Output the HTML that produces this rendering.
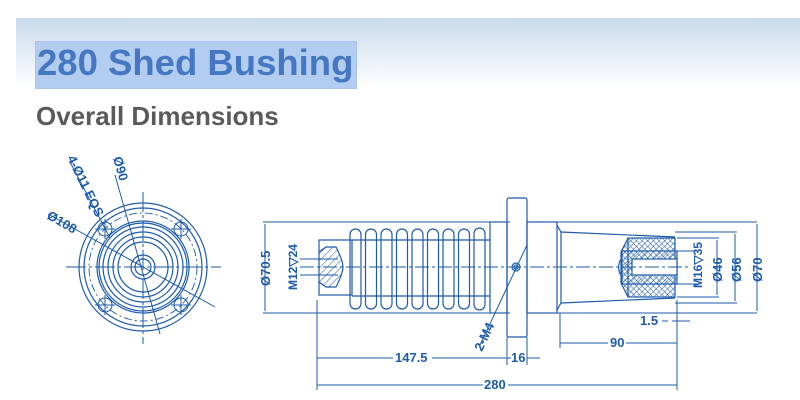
<!DOCTYPE html>
<html><head><meta charset="utf-8"><style>
html,body{margin:0;padding:0;background:#fff;}
body{width:800px;height:400px;position:relative;overflow:hidden;font-family:"Liberation Sans",sans-serif;}
.band{position:absolute;left:16px;top:18px;width:784px;height:70px;background:linear-gradient(#c9daec,#ffffff);}
.hl{position:absolute;left:35px;top:41px;width:320px;height:46px;background:#b3cdf0;border:1px solid #a8c4ec;}
.t1{position:absolute;left:37px;top:42px;font-size:36.5px;font-weight:bold;color:#4677c2;white-space:nowrap;}
.t2{position:absolute;left:36px;top:101px;font-size:26px;font-weight:bold;color:#5a5a5a;white-space:nowrap;}
svg{position:absolute;left:0;top:0;}
</style></head><body>
<div class="band"></div>
<div class="hl"></div>
<div class="t1">280 Shed Bushing</div>
<div class="t2">Overall Dimensions</div>
<svg width="800" height="400" viewBox="0 0 800 400">
<defs>
<pattern id="h" width="5" height="5" patternUnits="userSpaceOnUse" patternTransform="rotate(45)"><line x1="0" y1="0" x2="0" y2="5" stroke="#1d5bab" stroke-width="1"/></pattern>
<pattern id="x" width="4" height="4" patternUnits="userSpaceOnUse" patternTransform="rotate(45)"><path d="M0 0V4M0 0H4" stroke="#1d5bab" stroke-width="1"/></pattern>
</defs>
<g stroke="#1d5bab" fill="none" stroke-width="1.2" font-family="Liberation Sans,sans-serif">
<circle cx="143" cy="267" r="64"/>
<circle cx="143" cy="267" r="59"/>
<circle cx="143" cy="267" r="54" stroke-dasharray="8 3 2 3" stroke-width="0.9"/>
<circle cx="143" cy="267" r="46"/><circle cx="143" cy="267" r="44"/><circle cx="143" cy="267" r="40"/>
<circle cx="143" cy="267" r="35"/><circle cx="143" cy="267" r="30"/><circle cx="143" cy="267" r="25"/>
<circle cx="143" cy="267" r="12"/><circle cx="143" cy="267" r="8"/>
<g stroke-width="1">
<circle cx="105" cy="229" r="7"/><circle cx="181" cy="229" r="7"/><circle cx="105" cy="305" r="7"/><circle cx="181" cy="305" r="7"/>
<path d="M95 229h20M105 219v20M171 229h20M181 219v20M95 305h20M105 295v20M171 305h20M181 295v20"/>
<path d="M66 267h155M143 192v152" stroke-dasharray="20 3 3 3"/>
<path d="M115 175L160 334M48 214L215 307M70 162L110 238"/>
</g>
<g fill="#1d5bab" stroke="none" font-size="13" font-weight="bold">
<text transform="translate(113,158) rotate(74)">Ø90</text>
<text transform="translate(46,218) rotate(30)">Ø108</text>
<text transform="translate(67,158) rotate(64)">4-Ø11 EQS</text>
</g>
<path d="M263 222H510M263 313H510M556 222H757M556 313H757" stroke-width="1"/>
<path d="M265 224V311M735 234V301M717 240V295M757 224V311" stroke-width="1"/>
<rect x="319" y="240" width="33" height="55"/>
<path d="M319 252L326 247H336C340 255 343 262 343 267C343 272 340 279 336 287H326L319 282" fill="url(#h)"/>
<path d="M319 259H338M319 275H338M300 259H320M300 275H320" stroke-width="1"/>
<path d="M352 240H490M352 296H490"/>
<g>
<rect x="350" y="229" width="11" height="80" rx="5.5"/>
<rect x="365.5" y="229" width="11" height="80" rx="5.5"/>
<rect x="381" y="229" width="11" height="80" rx="5.5"/>
<rect x="396.5" y="229" width="11" height="80" rx="5.5"/>
<rect x="412" y="229" width="11" height="80" rx="5.5"/>
<rect x="427.5" y="229" width="11" height="80" rx="5.5"/>
<rect x="443" y="229" width="11" height="80" rx="5.5"/>
<rect x="458.5" y="229" width="11" height="80" rx="5.5"/>
<rect x="474" y="228" width="11" height="82" rx="5.5"/>
</g>
<rect x="490" y="222" width="17" height="91"/>
<rect x="507" y="198" width="20" height="139" rx="2"/>
<rect x="527" y="222" width="30" height="91"/>
<path d="M557 225L561 232L675 237M557 310L561 303L675 298M561 232V303"/>
<rect x="628" y="238" width="47" height="59" fill="url(#x)"/>
<path d="M628 238L621 252V283L628 297" fill="url(#x)"/>
<rect x="622" y="251" width="55" height="33" fill="url(#h)"/>
<path d="M622 258C618 262 617 272 622 276" fill="none"/>
<rect x="632" y="259" width="45" height="16" fill="#fff"/>
<path d="M675 232H737M675 303H737M677 238H719M677 297H719M677 251H697M677 284H697" stroke-width="1"/>
<path d="M300 267H690" stroke-dasharray="14 3 3 3" stroke-width="1"/>
<circle cx="516" cy="267" r="4"/><circle cx="516" cy="267" r="2"/>
<path d="M527 245L480 345" stroke-width="1"/>
<path d="M317 300V390M507 337V365M527 337V365M677 300V390M560 313V348" stroke-width="1"/>
<path d="M317 358H393M432 358H507M507 358H511M527 358H540M317 385H483M508 385H677M560 343H608M626 343H677M672 321H690M662 321H668" stroke-width="1"/>
<g fill="#1d5bab" stroke="none" font-size="13" font-weight="bold">
<text x="395" y="362">147.5</text>
<text x="511" y="362">16</text>
<text x="484" y="389">280</text>
<text x="610" y="347">90</text>
<text x="640" y="325">1.5</text>
<text transform="translate(270,286) rotate(-90)">Ø70.5</text>
<text transform="translate(297,290) rotate(-90)" font-size="12">M12▽24</text>
<text transform="translate(702,288) rotate(-90)" font-size="12">M16▽35</text>
<text transform="translate(722,282) rotate(-90)">Ø46</text>
<text transform="translate(741,282) rotate(-90)">Ø56</text>
<text transform="translate(762,282) rotate(-90)">Ø70</text>
<text transform="translate(482,352) rotate(-65)">2-M4</text>
</g>
</g>
</svg>
</body></html>
